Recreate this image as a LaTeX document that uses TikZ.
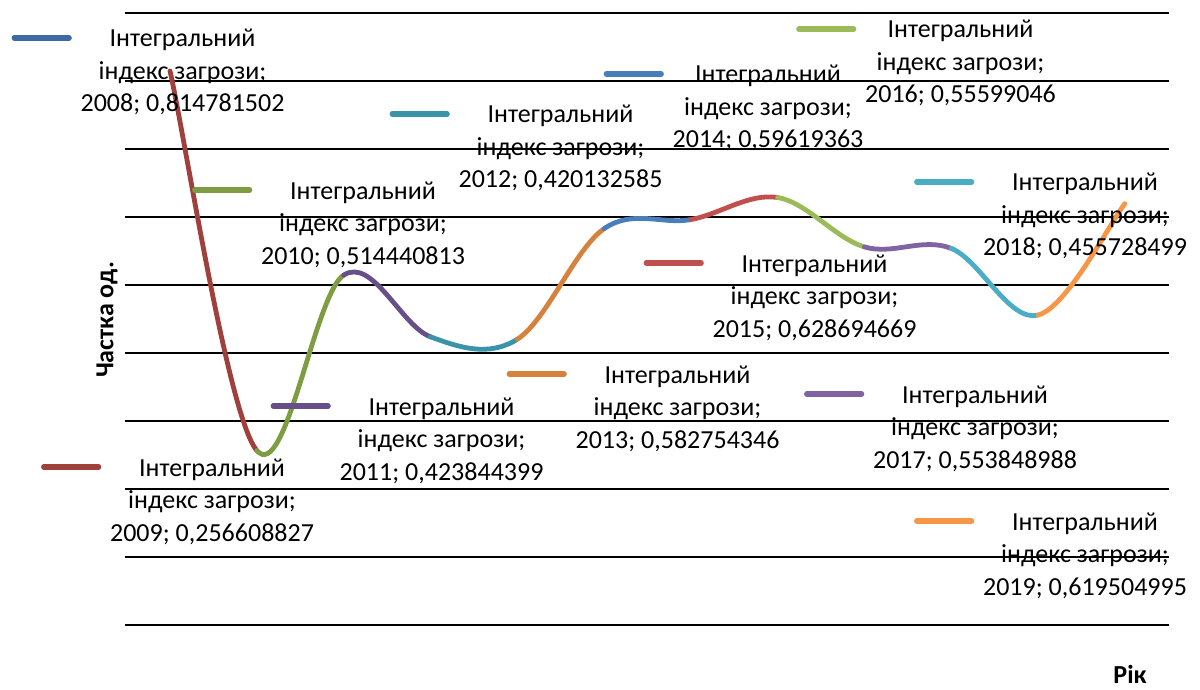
\documentclass[tikz,border=0pt]{standalone}
\usepackage{fontspec}
\setmainfont{Carlito}
\usetikzlibrary{calc}

\definecolor{blueD}{HTML}{3E6BA3}
\definecolor{redD}{HTML}{A0403C}
\definecolor{greenD}{HTML}{7E9D43}
\definecolor{purpleD}{HTML}{67508A}
\definecolor{tealD}{HTML}{3A93A8}
\definecolor{orangeD}{HTML}{D6813C}
\definecolor{blueL}{HTML}{4A7EBB}
\definecolor{redL}{HTML}{C0504D}
\definecolor{greenL}{HTML}{9BBB59}
\definecolor{purpleL}{HTML}{8064A2}
\definecolor{aquaL}{HTML}{4BACC6}
\definecolor{orangeL}{HTML}{F79646}

\begin{document}
\begin{tikzpicture}[x=0.5pt, y=-0.5pt,
    gridline/.style={line width=0.9pt, black},
    seg/.style={line width=2.4pt, line cap=round},
    keyline/.style={line width=2.6pt, line cap=round},
    datalabel/.style={align=center, inner sep=0pt, anchor=base,
        font=\fontsize{13}{16.25}\selectfont},
    axistitle/.style={inner sep=0pt, font=\fontsize{13}{16}\selectfont\bfseries}]
    \useasboundingbox (0,0) rectangle (1200,690);

    \foreach \k in {0,...,9}
        \draw[gridline] (125,{625-68*\k}) -- (1169,{625-68*\k});

    \foreach \yr/\v in {2008/0.814781502, 2009/0.256608827, 2010/0.514440813,
        2011/0.423844399, 2012/0.420132585, 2013/0.582754346, 2014/0.59619363,
        2015/0.628694669, 2016/0.55599046, 2017/0.553848988, 2018/0.455728499,
        2019/0.619504995}
        \coordinate (p\yr) at ({170+86.8*(\yr-2008)},{625-680*\v});
    \coordinate (p2007) at (p2008);
    \coordinate (p2020) at (p2019);

    % smoothed line, one colour per point
    \foreach \yr/\c in {2009/redD, 2010/greenD, 2011/purpleD, 2012/tealD,
        2013/orangeD, 2014/blueL, 2015/redL, 2016/greenL, 2017/purpleL,
        2018/aquaL, 2019/orangeL}{
        \pgfmathtruncatemacro\pyr{\yr-1}
        \pgfmathtruncatemacro\ppyr{\yr-2}
        \pgfmathtruncatemacro\nyr{\yr+1}
        \draw[seg, \c] (p\pyr)
            .. controls ($(p\pyr)+0.1667*(p\yr)-0.1667*(p\ppyr)$)
            and ($(p\yr)-0.1667*(p\nyr)+0.1667*(p\pyr)$) .. (p\yr);
    }

    % labels: \ly is the baseline of the first line
    \foreach \yr/\txt/\lx/\ly/\c in {2008/{0,814781502}/182.5/47/blueD,
        2009/{0,256608827}/212/476/redD, 2010/{0,514440813}/363/199/greenD,
        2011/{0,423844399}/441.5/415/purpleD, 2012/{0,420132585}/560.5/123/tealD,
        2013/{0,582754346}/677.5/383/orangeD, 2014/{0,59619363}/768/83/blueL,
        2015/{0,628694669}/814.5/272/redL, 2016/{0,55599046}/960.5/38/greenL,
        2017/{0,553848988}/975/403/purpleL, 2018/{0,455728499}/1085/191/aquaL,
        2019/{0,619504995}/1085/530/orangeL}{
        \node[datalabel] (l\yr) at (\lx,{\ly+65}) {Інтегральний\\індекс загрози;\\\yr; \txt};
        \draw[keyline, \c] ($(l\yr.west |- l\yr.base)+(-11,-74)$) -- ++(-55,0);
    }

    \node[axistitle, rotate=90] (ytitle) at (107,320) {Частка од.};
    \node[axistitle, anchor=base] (xtitle) at (1130,683) {Рік};
\end{tikzpicture}
\end{document}
